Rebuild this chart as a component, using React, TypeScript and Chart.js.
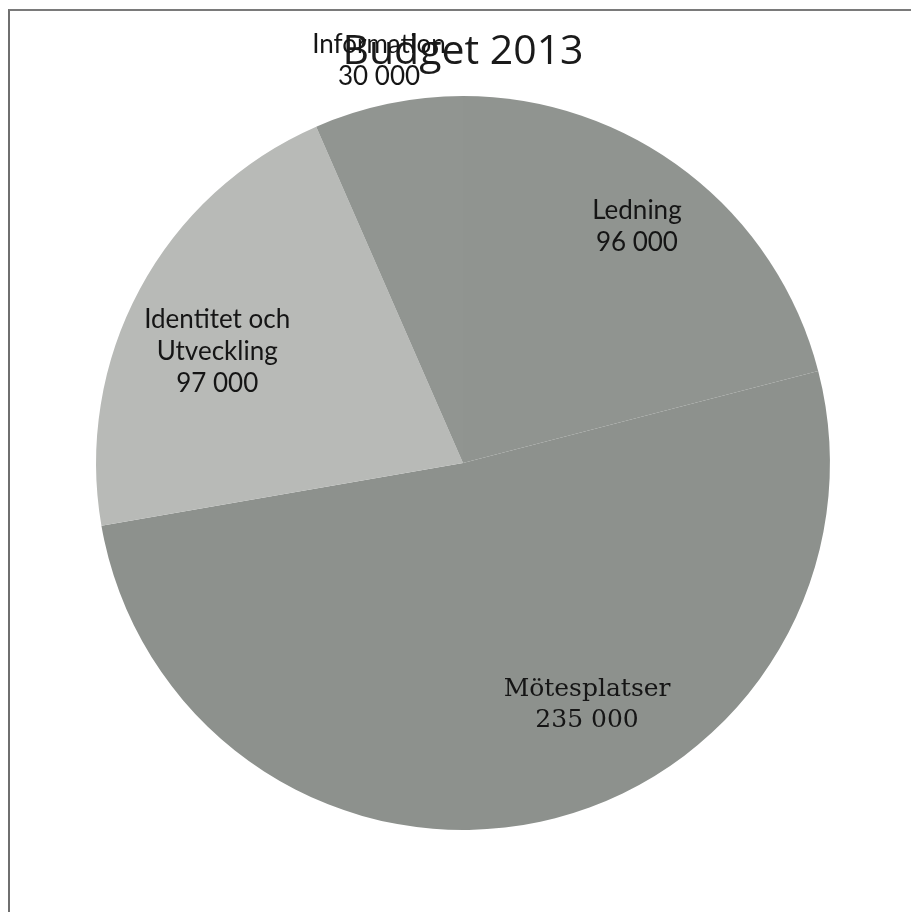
import React, { useEffect, useRef } from "react";
import { Chart, registerables } from "chart.js";

Chart.register(...registerables);

const titleText = "Budget 2013";
const categories = ["Ledning", "Mötesplatser", "Identitet och Utveckling", "Information"];
const values = [96000, 235000, 97000, 30000];
const labelLines = [
  ["Ledning", "96 000"],
  ["Mötesplatser", "235 000"],
  ["Identitet och", "Utveckling", "97 000"],
  ["Information", "30 000"],
];
const sliceColors = ["#909490", "#8d918d", "#b8bab7", "#919591"];
// label placement: angle offset (deg) from slice middle, radius factor
const labelAngleOffset = [-1.4, -15, -4, 0];
const labelRadiusFactor = [0.8, 0.74, 0.735, 1.12];
const labelFonts = [
  "26px Lato",
  "25px 'DejaVu Serif'",
  "26px Lato",
  "26px Lato",
];
const labelLineHeight = [32, 31, 32, 32];

const labelPlugin = {
  id: "sliceLabels",
  afterDatasetsDraw(chart: any) {
    const ctx = chart.ctx;
    const meta = chart.getDatasetMeta(0);
    meta.data.forEach((arc: any, i: number) => {
      const p = arc.getProps(["x", "y", "startAngle", "endAngle", "outerRadius"], true);
      const mid = (p.startAngle + p.endAngle) / 2 + (labelAngleOffset[i] * Math.PI) / 180;
      const r = p.outerRadius * labelRadiusFactor[i];
      const cx = p.x + Math.cos(mid) * r;
      const cy = p.y + Math.sin(mid) * r;
      const lines = labelLines[i];
      const lh = labelLineHeight[i];
      ctx.save();
      ctx.font = labelFonts[i];
      ctx.fillStyle = "#151515";
      ctx.textAlign = "center";
      ctx.textBaseline = "middle";
      const startY = cy - ((lines.length - 1) * lh) / 2;
      lines.forEach((t, j) => ctx.fillText(t, cx, startY + j * lh));
      ctx.restore();
    });
  },
};

export default function App() {
  const ref = useRef<HTMLCanvasElement | null>(null);
  useEffect(() => {
    if (!ref.current) return;
    const chart = new Chart(ref.current, {
      type: "pie",
      data: {
        labels: categories,
        datasets: [
          {
            data: values,
            backgroundColor: sliceColors,
            borderWidth: 0,
          },
        ],
      },
      options: {
        responsive: false,
        animation: false,
        devicePixelRatio: 1,
        layout: { padding: { left: 96, right: 81, top: 0, bottom: 82 } },
        plugins: {
          legend: { display: false },
          tooltip: { enabled: false },
          title: {
            display: true,
            text: titleText,
            color: "#1a1a1a",
            font: { family: "'Open Sans'", size: 41, weight: "normal", lineHeight: 1.1 },
            padding: { top: 30, bottom: 21 },
          },
        },
      },
      plugins: [labelPlugin],
    } as any);
    return () => chart.destroy();
  }, []);
  return (
    <div style={{ position: "fixed", left: 0, top: 0, width: 911, height: 912, background: "#fff", overflow: "hidden" }}>
      <div
        style={{
          position: "absolute",
          left: 8,
          top: 9,
          width: 1000,
          height: 1000,
          borderLeft: "2px solid #6f6f6f",
          borderTop: "2px solid #7a7a7a",
        }}
      />
      <canvas ref={ref} width={911} height={912} style={{ position: "absolute", left: 0, top: 0, width: 911, height: 912 }} />
    </div>
  );
}
